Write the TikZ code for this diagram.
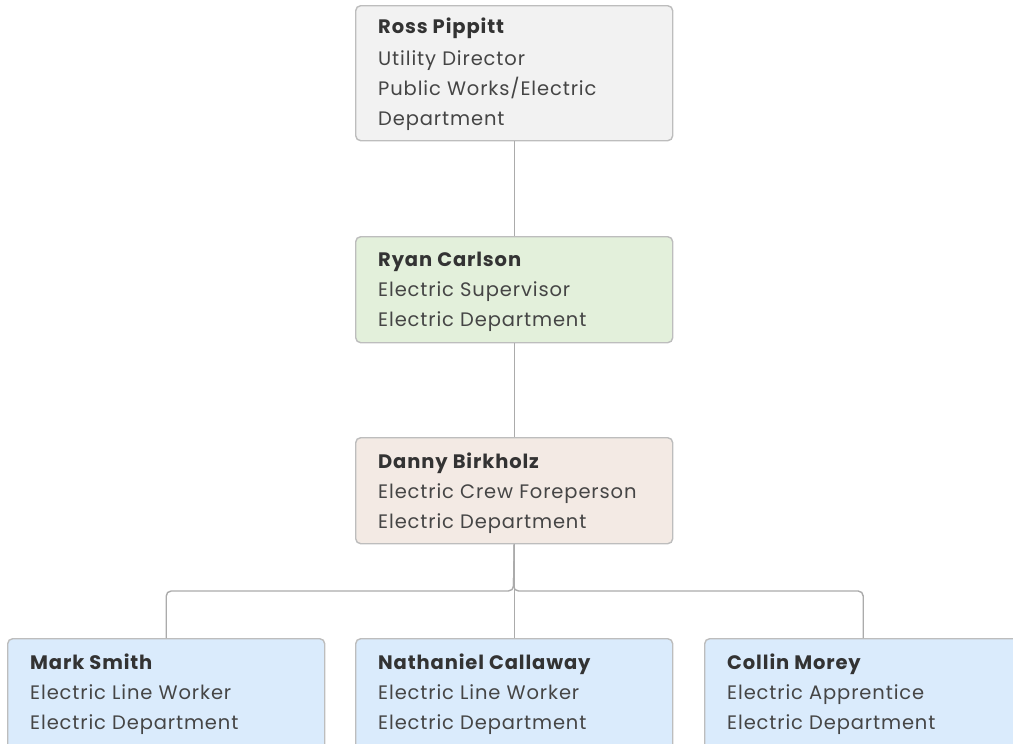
\documentclass[tikz,border=0pt]{standalone}
\usepackage{fontspec}
\setmainfont{Poppins}[LetterSpace=4.5]
\definecolor{cardline}{HTML}{BDBDBD}
\definecolor{linkline}{HTML}{ABABAB}
\definecolor{greyfill}{HTML}{F2F2F2}
\definecolor{greenfill}{HTML}{E3F0DB}
\definecolor{sandfill}{HTML}{F3EAE4}
\definecolor{bluefill}{HTML}{DAEBFC}
\definecolor{nametext}{HTML}{333333}
\definecolor{roletext}{HTML}{454545}
\begin{document}
\begin{tikzpicture}[x=1pt,y=-1pt,
  card/.style={draw=cardline, line width=1.4pt, rounded corners=5pt,
    anchor=north west, minimum width=317pt, inner sep=0pt},
  pname/.style={anchor=base west, inner sep=0pt, text=nametext,
    font=\fontsize{19.5}{22}\selectfont\bfseries},
  prole/.style={anchor=base west, inner sep=0pt, text=roletext,
    font=\fontsize{19.5}{22}\selectfont},
  link/.style={draw=linkline, line width=1.4pt, rounded corners=5pt}]
\clip (0,0) rectangle (1013,744);
\useasboundingbox (0,0) rectangle (1013,744);

% cards
\node[card, fill=greyfill, minimum height=135pt] (ross) at (355,5) {};
\node[card, fill=greenfill, minimum height=106pt] (ryan) at (355,236) {};
\node[card, fill=sandfill, minimum height=106pt] (danny) at (355,437) {};
\node[card, fill=bluefill, minimum height=130pt] (mark) at (7,638) {};
\node[card, fill=bluefill, minimum height=130pt] (nath) at (355,638) {};
\node[card, fill=bluefill, minimum height=130pt] (collin) at (704,638) {};

% card texts
\node[pname] (ross-n) at (378,34) {Ross Pippitt};
\node[prole] (ross-r) at (378,65) {Utility Director};
\node[prole] (ross-d1) at (378,95) {Public Works/Electric};
\node[prole] (ross-d2) at (378,125) {Department};

\node[pname] (ryan-n) at (378,266) {Ryan Carlson};
\node[prole] (ryan-r) at (378,296) {Electric Supervisor};
\node[prole] (ryan-d) at (378,326) {Electric Department};

\node[pname] (danny-n) at (378,468) {Danny Birkholz};
\node[prole] (danny-r) at (378,498) {Electric Crew Foreperson};
\node[prole] (danny-d) at (378,528) {Electric Department};

\node[pname] (mark-n) at (30,669) {Mark Smith};
\node[prole] (mark-r) at (30,699) {Electric Line Worker};
\node[prole] (mark-d) at (30,729) {Electric Department};

\node[pname] (nath-n) at (378,669) {Nathaniel Callaway};
\node[prole] (nath-r) at (378,699) {Electric Line Worker};
\node[prole] (nath-d) at (378,729) {Electric Department};

\node[pname] (collin-n) at (727,669) {Collin Morey};
\node[prole] (collin-r) at (727,699) {Electric Apprentice};
\node[prole] (collin-d) at (727,729) {Electric Department};

% reporting lines
\coordinate (bus) at (513.5,591);
\draw[link] (ross) -- (ryan);
\draw[link] (ryan) -- (danny);
\draw[link] (danny.south) -- (nath.north);
\draw[link] (danny.south) -- (bus) -| (mark.north);
\draw[link] (danny.south) -- (bus) -| (collin.north);
\end{tikzpicture}
\end{document}
